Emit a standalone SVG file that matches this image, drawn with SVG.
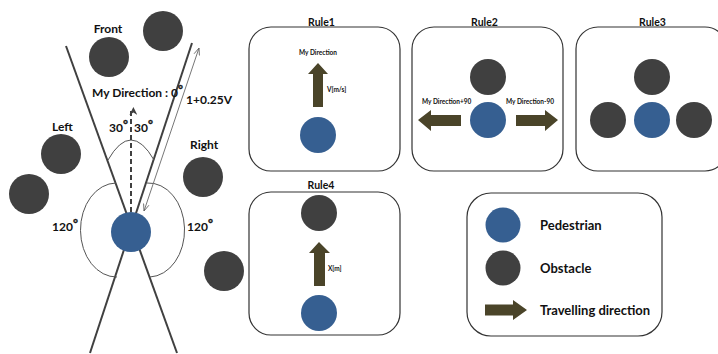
<svg xmlns="http://www.w3.org/2000/svg" width="718" height="354" viewBox="0 0 718 354">
  <style>
    text { font-family: Lato, "Liberation Sans", sans-serif; font-weight: bold; fill: #111; }
    .ped { fill: #365f91; }
    .obs { fill: #404040; }
    .dir { fill: #4a4429; }
    .box { fill: #fff; stroke: #333; stroke-width: 1.2; }
    .ray { stroke: #404040; stroke-width: 2; fill: none; }
    .arc { stroke: #555; stroke-width: 1; fill: none; }
    .title { font-size: 10.5px; text-anchor: middle; }
    .lbl { font-size: 12px; }
    .deg { font-size: 12px; stroke: #111; stroke-width: 0.35; }
    .tiny { font-size: 6.5px; }
    .leg { font-size: 13px; }
  </style>
  <defs>
    <marker id="dashHead" viewBox="0 0 10 10" refX="5" refY="2" markerWidth="8" markerHeight="8" markerUnits="userSpaceOnUse" orient="auto-start-reverse">
      <path d="M0,10 L5,0 L10,10 L5,7 Z" fill="#404040" transform="rotate(90 5 5)"/>
    </marker>
    <marker id="thinHead" viewBox="0 0 10 10" refX="10" refY="5" markerWidth="7" markerHeight="7" markerUnits="userSpaceOnUse" orient="auto-start-reverse">
      <path d="M0,1 L10,5 L0,9" fill="none" stroke="#666" stroke-width="1.2"/>
    </marker>
  </defs>

  <!-- field of view around the pedestrian -->
  <g id="view">
    <line class="ray" x1="66" y1="46" x2="177" y2="353"/>
    <line class="ray" x1="192" y1="43" x2="90" y2="353"/>
    <path class="arc" d="M108,160 Q131,120 154,160"/>
    <path class="arc" d="M116,183 A36,47 0 1 0 117,277"/>
    <path class="arc" d="M147,183 A36,47 0 1 1 150,277"/>
  </g>

  <g id="connectors">
    <line x1="131" y1="212" x2="131" y2="111" stroke="#404040" stroke-width="2" stroke-dasharray="5 3" marker-end="url(#dashHead)"/>
    <line x1="144" y1="211" x2="199" y2="48" stroke="#777" stroke-width="1" marker-start="url(#thinHead)" marker-end="url(#thinHead)"/>
  </g>

  <g id="obstacles">
    <circle class="obs" cx="109" cy="57" r="20"/>
    <circle class="obs" cx="163" cy="31" r="20"/>
    <circle class="obs" cx="61" cy="154" r="20"/>
    <circle class="obs" cx="29" cy="194" r="20"/>
    <circle class="obs" cx="203" cy="177" r="20"/>
    <circle class="obs" cx="224" cy="271" r="20"/>
  </g>

  <g id="pedestrian">
    <circle class="ped" cx="131" cy="232" r="20"/>
  </g>

  <g id="view-labels">
    <text class="lbl" x="108" y="33" text-anchor="middle">Front</text>
    <text class="lbl" x="92" y="97">My Direction : 0<tspan class="deg" dy="-4">°</tspan></text>
    <text class="lbl" x="186" y="104">1+0.25V</text>
    <text class="lbl" x="52" y="131">Left</text>
    <text class="lbl" x="190" y="149">Right</text>
    <text class="lbl" x="109" y="132">30<tspan class="deg" dy="-4">°</tspan></text>
    <text class="lbl" x="134" y="132">30<tspan class="deg" dy="-4">°</tspan></text>
    <text class="lbl" x="52" y="231">120<tspan class="deg" dy="-4">°</tspan></text>
    <text class="lbl" x="187" y="231">120<tspan class="deg" dy="-4">°</tspan></text>
  </g>

  <!-- Rule 1: keep walking straight -->
  <g id="rule1">
    <text class="title" x="321.5" y="26">Rule1</text>
    <rect class="box" x="249" y="27" width="151" height="144" rx="22"/>
    <text class="tiny" x="318" y="54.5" text-anchor="middle">My Direction</text>
    <path class="dir" d="M318,63 L328,74 L323,74 L323,107 L313,107 L313,74 L308,74 Z"/>
    <text class="tiny" x="327" y="91.5">V[m/s]</text>
    <circle class="ped" cx="318" cy="135" r="18"/>
  </g>

  <!-- Rule 2: sidestep when blocked ahead -->
  <g id="rule2">
    <text class="title" x="484.5" y="26">Rule2</text>
    <rect class="box" x="412" y="27" width="151" height="144" rx="22"/>
    <circle class="obs" cx="488" cy="77" r="18"/>
    <circle class="ped" cx="488" cy="120" r="18"/>
    <path class="dir" d="M418,120 L431,110 L431,115 L461,115 L461,126 L431,126 L431,131 Z"/>
    <path class="dir" d="M558,120 L545,110 L545,115 L516,115 L516,126 L545,126 L545,131 Z"/>
    <text class="tiny" x="422" y="104">My Direction+90</text>
    <text class="tiny" x="506" y="104">My Direction-90</text>
  </g>

  <!-- Rule 3: surrounded on three sides -->
  <g id="rule3">
    <text class="title" x="652.5" y="26">Rule3</text>
    <rect class="box" x="576" y="27" width="151" height="144" rx="22"/>
    <circle class="obs" cx="652" cy="77" r="18"/>
    <circle class="obs" cx="608" cy="120" r="18"/>
    <circle class="ped" cx="652" cy="120" r="18"/>
    <circle class="obs" cx="694" cy="120" r="18"/>
  </g>

  <!-- Rule 4: distance to the obstacle ahead -->
  <g id="rule4">
    <text class="title" x="321" y="189">Rule4</text>
    <rect class="box" x="249" y="192" width="151" height="143" rx="22"/>
    <circle class="obs" cx="319" cy="213" r="18"/>
    <path class="dir" d="M319,242 L330,253 L325,253 L325,286 L314,286 L314,253 L309,253 Z"/>
    <text class="tiny" x="328" y="271">X[m]</text>
    <circle class="ped" cx="319" cy="313" r="18"/>
  </g>

  <g id="legend">
    <rect class="box" x="467" y="193" width="195" height="143" rx="24"/>
    <circle class="ped" cx="503" cy="225" r="17.5"/>
    <circle class="obs" cx="503" cy="268" r="17.5"/>
    <path class="dir" d="M527,310 L513,300 L513,304.5 L485,304.5 L485,315.5 L513,315.5 L513,320 Z"/>
    <text class="leg" x="540" y="230">Pedestrian</text>
    <text class="leg" x="540" y="273">Obstacle</text>
    <text class="leg" x="540" y="315">Travelling direction</text>
  </g>
</svg>
